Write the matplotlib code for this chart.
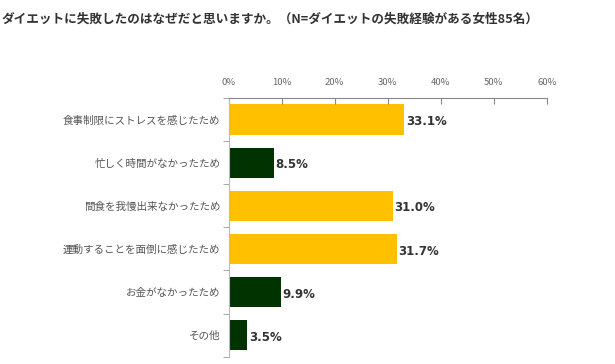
import matplotlib.pyplot as plt
from matplotlib.ticker import MultipleLocator, FuncFormatter

plt.rcParams['font.family'] = ['Noto Sans CJK JP', 'DejaVu Sans']

# Data
categories = ['食事制限にストレスを感じたため', '忙しく時間がなかったため', '間食を我慢出来なかったため',
              '運動することを面倒に感じたため', 'お金がなかったため', 'その他']
values = [33.1, 8.5, 31.0, 31.7, 9.9, 3.5]
bar_colors = ['#FFC000', '#003300', '#FFC000', '#FFC000', '#003300', '#003300']
title = 'ダイエットに失敗したのはなぜだと思いますか。（N=ダイエットの失敗経験がある女性85名）'

fig = plt.figure(figsize=(6.15, 3.64), dpi=100)
ax = fig.add_axes([0.372, 0.02, 0.517, 0.711])

y = list(range(len(categories)))
ax.barh(y, values, height=0.7, color=bar_colors)
for yi, v in zip(y, values):
    ax.text(v + 0.3, yi + 0.05, f'{v}%', va='center', ha='left',
            fontsize=8.5, fontweight='bold', color='#333333', family=['DejaVu Sans'])

ax.set_ylim(len(categories) - 0.5, -0.5)
ax.set_xlim(0, 60)
ax.set_yticks(y)
ax.set_yticklabels(categories, fontsize=7.6, color='#555555')
ax.tick_params(axis='y', length=0, pad=6)
ax.set_yticks([i + 0.5 for i in range(-1, len(categories))], minor=True)
ax.tick_params(axis='y', which='minor', length=4, color='#999999')

ax.xaxis.tick_top()
ax.xaxis.set_major_locator(MultipleLocator(10))
ax.xaxis.set_major_formatter(FuncFormatter(lambda v, p: f'{int(v)}%'))
ax.tick_params(axis='x', direction='in', length=4, color='#888888',
               labelsize=6.8, labelcolor='#666666', pad=8)

for s in ['right', 'bottom']:
    ax.spines[s].set_visible(False)
ax.spines['top'].set_color('#888888')
ax.spines['left'].set_color('#bbbbbb')

fig.text(0.003, 0.948, title, fontsize=9.1, fontweight='bold', color='#333333',
         ha='left', va='center')

fig.savefig('out.png', dpi=100)
